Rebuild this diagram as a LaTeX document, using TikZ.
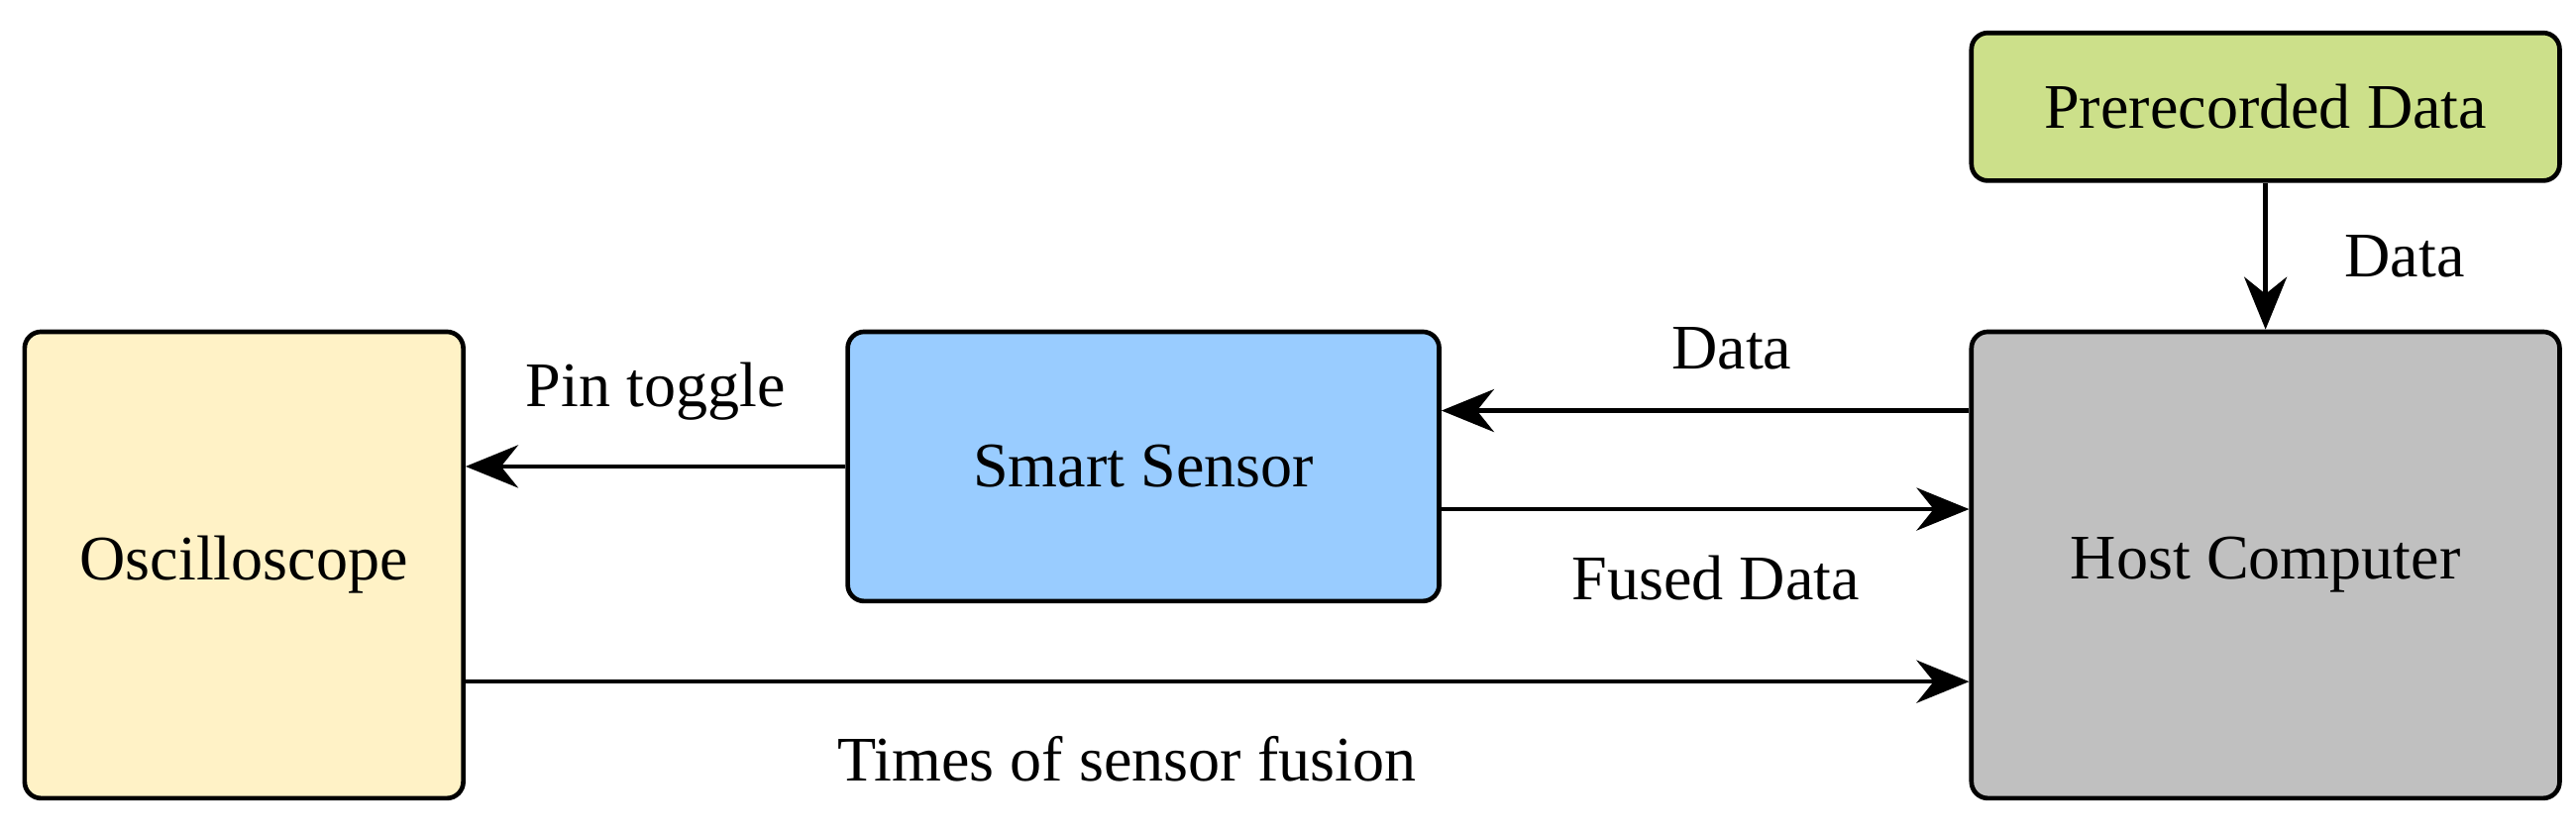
\documentclass[tikz,border=0pt]{standalone}
\usepackage{fontspec}
\setmainfont{Liberation Serif}
\usetikzlibrary{arrows.meta,positioning}
\definecolor{oscfill}{HTML}{FFF2C6}
\definecolor{ssfill}{HTML}{99CCFF}
\definecolor{hostfill}{HTML}{C0C0C0}
\definecolor{prefill}{HTML}{CCE08A}
\tikzset{
  block/.style={draw, line width=0.8pt, rounded corners=1mm, align=center, inner sep=0pt, font=\fontsize{11}{13}\selectfont},
  arr/.style={-{Stealth[length=3.2mm,width=2.6mm]}, line width=0.8pt},
  lbl/.style={font=\fontsize{11}{13}\selectfont}
}
\begin{document}
\begin{tikzpicture}
\useasboundingbox (0,0) rectangle (15.68,5.07);

\node (osc) at (1.485,1.63) [block, fill=oscfill, minimum width=2.67cm, minimum height=2.84cm] {Oscilloscope};
\node (ss) at (6.96,2.23) [block, fill=ssfill, minimum width=3.60cm, minimum height=1.64cm] {Smart Sensor};
\node (host) at (13.79,1.63) [block, fill=hostfill, minimum width=3.58cm, minimum height=2.84cm] {Host Computer};
\node (pre) at (13.79,4.42) [block, fill=prefill, minimum width=3.58cm, minimum height=0.90cm] {Prerecorded Data};

\draw [arr] (ss.west) -- (osc.east |- ss.west) node [lbl, pos=0.5, above=0.15cm] {Pin toggle};
\draw [arr] (host.west |- 0,2.57) -- (ss.east |- 0,2.57) node [lbl, pos=0.45, above=0.12cm] {Data};
\draw [arr] (ss.east |- 0,1.97) -- (host.west |- 0,1.97) node [lbl, pos=0.52, below=0.15cm] {Fused Data};
\draw [arr] (osc.east |- 0,0.92) -- (host.west |- 0,0.92) node [lbl, pos=0.44, below=0.2cm] {Times of sensor fusion};
\draw [arr] (pre) -- (host) node [lbl, pos=0.5, right=0.35cm] {Data};
\end{tikzpicture}
\end{document}
